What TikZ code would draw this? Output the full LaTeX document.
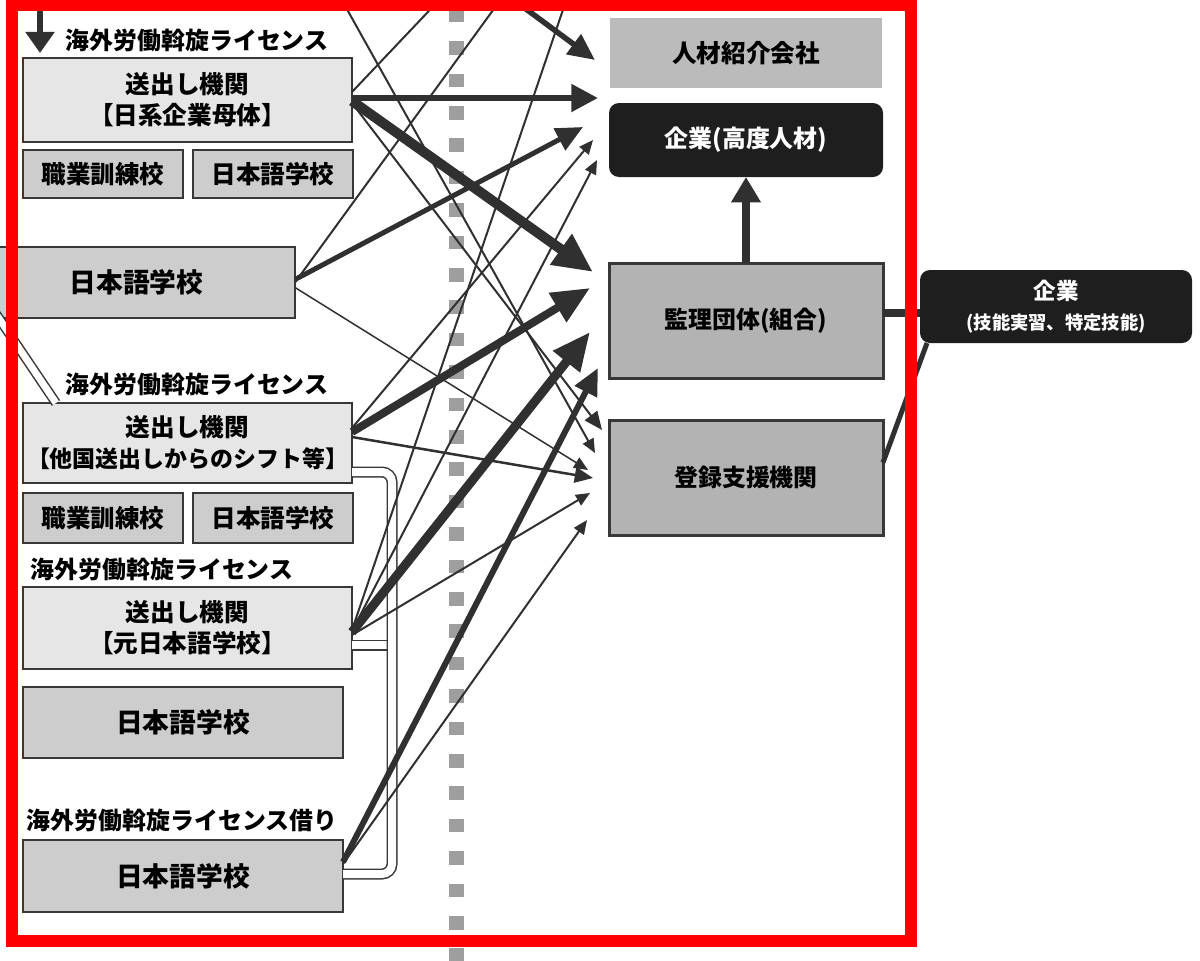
\documentclass[tikz,border=0pt]{standalone}
\usepackage{fontspec}
\setmainfont{Noto Sans CJK JP}
\usetikzlibrary{arrows.meta,calc}
\newlength\ppx \setlength\ppx{0.025cm}
\definecolor{ln}{HTML}{303030}
\definecolor{bd}{HTML}{383838}
\definecolor{lightfill}{HTML}{E6E6E6}
\definecolor{midfill}{HTML}{CDCDCD}
\definecolor{darkfill}{HTML}{B3B3B3}
\definecolor{jinfill}{HTML}{BBBBBB}
\definecolor{blk}{HTML}{1E1E1E}
\definecolor{sqc}{HTML}{9E9E9E}
\definecolor{framec}{HTML}{FF0000}
\tikzset{
 bx/.style={draw=bd, line width=2.5\ppx, inner sep=0pt, outer sep=0pt, anchor=north west, align=center, text=black, font=\bfseries\fontsize{17.5}{22}\selectfont},
 sendbox/.style={bx, fill=lightfill},
 smallbox/.style={bx, fill=midfill, line width=2\ppx},
 jbox/.style={bx, fill=midfill, font=\bfseries\fontsize{19}{22}\selectfont},
 rbox/.style={bx, fill=darkfill, line width=3\ppx, font=\bfseries\fontsize{17}{22}\selectfont},
 blkbox/.style={bx, fill=blk, draw=none, rounded corners=10\ppx, text=white, font=\bfseries\fontsize{17}{22}\selectfont},
 lic/.style={font=\bfseries\fontsize{17}{20}\selectfont, inner sep=0pt, text=black},
 aS/.style={draw=ln, line width=2\ppx, -{Triangle[length=10pt,width=8.5pt]}},
 aM/.style={draw=ln, line width=3\ppx, -{Triangle[length=13pt,width=11pt]}},
 aL/.style={draw=ln, line width=5.5\ppx, -{Triangle[length=19pt,width=17pt]}},
 aXL/.style={draw=ln, line width=9\ppx, -{Triangle[length=27pt,width=23pt]}},
 plainln/.style={draw=ln, line width=2\ppx},
 dbl/.style={draw=bd, line width=1.5\ppx, double=white, double distance=8\ppx, rounded corners=10\ppx},
}
\begin{document}
\begin{tikzpicture}[x=0.025cm, y=-0.025cm]
\useasboundingbox (0,0) rectangle (1200,960);

% dotted separator
\foreach \i in {0,...,29}{
  \pgfmathsetmacro\yy{8.8+32.4*\i}
  \fill[sqc] (449,\yy) rectangle (464,\yy+13.5);
}

% ---------- left boxes ----------
\node[lic] (lic1) at (197,40) {海外労働斡旋ライセンス};
\node[sendbox, minimum width=329\ppx, minimum height=84\ppx] (A) at (23,58) {送出し機関\\【日系企業母体】};
\node[smallbox, minimum width=160\ppx, minimum height=48\ppx] (A1) at (23,150) {職業訓練校};
\node[smallbox, minimum width=160\ppx, minimum height=48\ppx] (A2) at (193,150) {日本語学校};
\node[jbox, minimum width=317\ppx, minimum height=71\ppx] (J1) at (-22,247) {日本語学校};

\node[lic] (lic2) at (197,384) {海外労働斡旋ライセンス};
\node[sendbox, minimum width=329\ppx, minimum height=80\ppx] (B) at (23,403) {送出し機関\\{\fontsize{16.3}{22}\selectfont 【他国送出しからのシフト等】}};
\node[smallbox, minimum width=160\ppx, minimum height=50\ppx] (B1) at (23,493) {職業訓練校};
\node[smallbox, minimum width=160\ppx, minimum height=50\ppx] (B2) at (193,493) {日本語学校};

\node[lic] (lic3) at (162,569) {海外労働斡旋ライセンス};
\node[sendbox, minimum width=329\ppx, minimum height=82\ppx] (C) at (23,587) {送出し機関\\【元日本語学校】};
\node[jbox, minimum width=320\ppx, minimum height=71\ppx] (J2) at (23,687) {日本語学校};

\node[lic] (lic4) at (182,820) {海外労働斡旋ライセンス借り};
\node[jbox, minimum width=320\ppx, minimum height=72\ppx] (J3) at (23,840) {日本語学校};

% ---------- right boxes ----------
\node[bx, fill=jinfill, draw=none, minimum width=272\ppx, minimum height=70\ppx, font=\bfseries\fontsize{17.5}{22}\selectfont] (R1) at (610,18) {人材紹介会社};
\node[blkbox, minimum width=274\ppx, minimum height=74\ppx] (R2) at (609,103) {企業(高度人材)};
\node[rbox, minimum width=274\ppx, minimum height=115\ppx] (R3) at (609,263) {監理団体(組合)};
\node[rbox, minimum width=274\ppx, minimum height=115\ppx] (R4) at (609,420) {登録支援機関};
\node[blkbox, minimum width=272\ppx, minimum height=73\ppx, font=\bfseries\fontsize{13}{21}\selectfont] (R5) at (920,270) {{\fontsize{16}{21}\selectfont 企業}\\(技能実習、特定技能)};

% ---------- coordinates ----------
\coordinate (t0) at (40,53);   \coordinate (o0) at (40,-5);
\coordinate (t1) at (595,60);  \coordinate (o1) at (507,-5);
\coordinate (t2) at (598,98);
\coordinate (t3) at (583,127);
\coordinate (t4) at (593,140);
\coordinate (t5) at (597,160);
\coordinate (t6) at (593,272);
\coordinate (t7) at (590,288);
\coordinate (t8) at (590,332);
\coordinate (t9) at (598,368);
\coordinate (t10) at (602,430);
\coordinate (t11) at (595,453); \coordinate (o4) at (339,-5);
\coordinate (t12) at (588,470);
\coordinate (t13) at (593,478);
\coordinate (t14) at (590,493);
\coordinate (t15) at (587,520);
\coordinate (o2) at (444,-5);
\coordinate (o3) at (504,-5);
\coordinate (o5) at (568,-5);
\coordinate (d1) at (392,472);
\coordinate (d2) at (392,874);
\coordinate (d3) at (388,645);
\coordinate (e1) at (-6,311);
\coordinate (k1) at (900,313);

% ---------- double connector ----------
\draw[dbl, rounded corners=0pt] ($(C.east)+(0,17)$) -- (d3);
\draw[dbl] ($(B.east)+(0,29)$) -- (d1) -- (d2) -- (J3.east|-d2);
\draw[dbl, double distance=7\ppx] (e1) -- ($(B.north west)+(33,0)$);

% ---------- flow lines ----------
\draw[draw=ln, line width=6\ppx, -{Triangle[length=15pt,width=20pt]}] (o0) -- (t0);
\draw[aL] (o1) -- (t1);
\draw[plainln] ($(A.east)+(0,-8)$) -- (o2);
\draw[plainln] (J1.east) -- (o3);
\draw[plainln] ($(C.east)+(0,2)$) -- (o5);
\draw[aS] (o4) -- (t11);
\draw[aL, line width=6\ppx, -{Triangle[length=19pt,width=19pt]}] ($(A.east)+(0,-2)$) -- (t2);
\draw[aXL, line width=10\ppx, -{Triangle[length=28pt,width=25pt]}] ($(A.east)+(0,1)$) -- (t6);
\draw[aM, line width=2\ppx] ($(A.east)+(0,3)$) -- (t10);
\draw[aL, line width=5\ppx] ($(J1.east)+(0,-3)$) -- (t3);
\draw[aS, line width=1.5\ppx] ($(J1.east)+(0,5)$) -- (t12);
\draw[aXL, line width=8\ppx] ($(B.east)+(0,-11)$) -- (t7);
\draw[aS] ($(B.east)+(0,-15)$) -- (t4);
\draw[aM, line width=2.5\ppx] ($(B.east)+(0,-6)$) -- (t13);
\draw[aXL] ($(C.east)+(0,4)$) -- (t8);
\draw[aS] ($(C.east)+(0,7)$) -- (t14);
\draw[aS] ($(C.east)+(0,3)$) -- (t5);
\draw[aL, line width=6\ppx] ($(J3.east)+(0,-14)$) -- (t9);
\draw[aS] ($(J3.east)+(0,-12)$) -- (t15);

% ---------- right connectors ----------
\draw[draw=ln, line width=8\ppx, -{Triangle[length=18pt,width=20pt]}] (R3.north) -- (R2.south);
\draw[draw=ln, line width=8\ppx] (R3.east|-k1) -- (R5.west|-k1);
\draw[draw=ln, line width=5\ppx] ($(R4.east)+(0,-15)$) -- ($(R5.south west)+(7,0)$);

% ---------- red frame ----------
\draw[draw=framec, line width=12\ppx] (12,5) rectangle (911,941);
\end{tikzpicture}
\end{document}
